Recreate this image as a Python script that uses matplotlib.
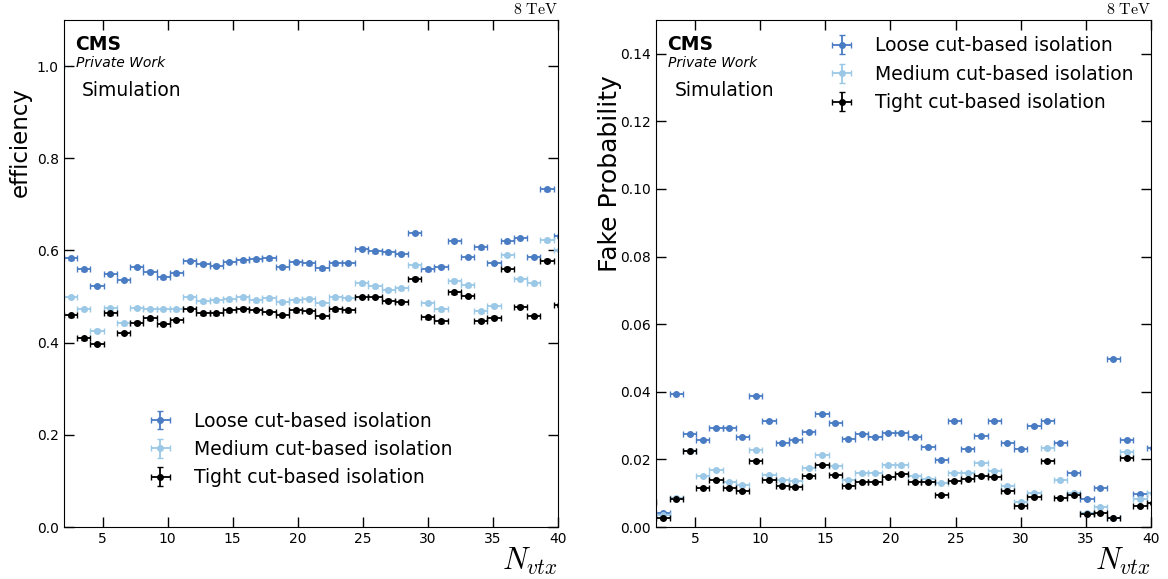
import numpy as np
import matplotlib.pyplot as plt

plt.rcParams['mathtext.fontset'] = 'cm'

# vertex-multiplicity binning (bins 1..39 are visible in the x range 2-40)
edges = np.linspace(0, 60, 60)
nvtx = 0.5 * (edges[1:] + edges[:-1])[1:40]
half_width = 0.5 * (edges[1] - edges[0])

labels = ['Loose cut-based isolation', 'Medium cut-based isolation', 'Tight cut-based isolation']
colors = ['#4a7cc3', '#9bc8e6', 'black']

nan = np.nan
eff_loose = [1.000, 0.583, 0.559, 0.523, 0.549, 0.536, 0.564, 0.554, 0.542, 0.550,
             0.577, 0.571, 0.567, 0.575, 0.579, 0.581, 0.583, 0.565, 0.575, 0.572,
             0.561, 0.572, 0.573, 0.604, 0.598, 0.596, 0.593, 0.638, 0.559, 0.565,
             0.621, 0.586, 0.607, 0.573, 0.620, 0.627, 0.586, 0.733, 0.631]
eff_medium = [nan, 0.499, 0.473, 0.426, 0.475, 0.442, 0.475, 0.473, 0.473, 0.472,
              0.499, 0.490, 0.492, 0.494, 0.498, 0.492, 0.496, 0.489, 0.492, 0.495,
              0.487, 0.498, 0.497, 0.529, 0.522, 0.515, 0.518, 0.568, 0.486, 0.472,
              0.534, 0.524, 0.468, 0.480, 0.590, 0.538, 0.529, 0.622, 0.600]
eff_tight = [nan, 0.459, 0.409, 0.397, 0.464, 0.421, 0.443, 0.453, 0.441, 0.449,
             0.474, 0.464, 0.464, 0.470, 0.474, 0.471, 0.467, 0.460, 0.470, 0.469,
             0.458, 0.472, 0.470, 0.499, 0.499, 0.491, 0.489, 0.539, 0.455, 0.446,
             0.509, 0.501, 0.448, 0.454, 0.560, 0.478, 0.458, 0.578, 0.481]

fake_loose = [nan, 0.0041, 0.0393, 0.0275, 0.0257, 0.0292, 0.0292, 0.0266, 0.0388, 0.0315,
              0.0249, 0.0257, 0.0281, 0.0334, 0.0307, 0.0260, 0.0275, 0.0266, 0.0277, 0.0279,
              0.0267, 0.0237, 0.0198, 0.0313, 0.0230, 0.0269, 0.0313, 0.0248, 0.0231, 0.0298,
              0.0314, 0.0248, 0.0160, 0.0084, 0.0115, 0.0498, 0.0258, 0.0097, 0.0233]
fake_medium = [nan, 0.0035, 0.0086, 0.0226, 0.0150, 0.0169, 0.0132, 0.0124, 0.0228, 0.0153,
               0.0140, 0.0135, 0.0175, 0.0214, 0.0180, 0.0140, 0.0159, 0.0159, 0.0182, 0.0182,
               0.0151, 0.0141, 0.0129, 0.0159, 0.0161, 0.0188, 0.0167, 0.0122, 0.0074, 0.0100,
               0.0234, 0.0139, 0.0100, 0.0041, 0.0060, 0.0026, 0.0223, 0.0082, 0.0100]
fake_tight = [0.0075, 0.0026, 0.0084, 0.0225, 0.0114, 0.0138, 0.0116, 0.0107, 0.0196, 0.0140,
              0.0121, 0.0119, 0.0150, 0.0184, 0.0153, 0.0121, 0.0134, 0.0133, 0.0148, 0.0158,
              0.0134, 0.0134, 0.0096, 0.0137, 0.0143, 0.0151, 0.0148, 0.0106, 0.0063, 0.0089,
              0.0195, 0.0085, 0.0094, 0.0038, 0.0042, 0.0026, 0.0204, 0.0061, 0.0072]

# small statistical uncertainties (hidden behind the markers)
eff_err = 0.003
fake_err = 0.0003

fig = plt.figure(figsize=(11.68, 5.79), dpi=100)
ax1 = fig.add_axes([0.0544, 0.0898, 0.4233, 0.8757])
ax2 = fig.add_axes([0.5616, 0.0898, 0.4238, 0.8757])


def draw(ax, series, err):
    for vals, lab, col in zip(series, labels, colors):
        vals = np.array(vals)
        ok = np.isfinite(vals)  # empty bins are not drawn
        ax.errorbar(nvtx[ok], vals[ok], xerr=half_width, yerr=err, fmt='o', color=col,
                    markersize=4, elinewidth=1.3, capsize=2.5, capthick=1.0, label=lab)
    ax.set_xlim(2, 40)
    ax.tick_params(direction='in', top=True, right=True, length=7, width=1, labelsize=10)
    ax.set_xlabel(r'$N_{vtx}$', fontsize=22, loc='right', labelpad=0)
    ax.text(1.0, 1.006, r'$\mathrm{8\ TeV}$', transform=ax.transAxes, ha='right', va='bottom',
            fontsize=11.5)
    ax.text(0.023, 0.9408, 'CMS', transform=ax.transAxes, fontsize=13.5, fontweight='bold')
    ax.text(0.025, 0.907, 'Private Work', transform=ax.transAxes, fontsize=10, style='italic')
    ax.text(0.037, 0.851, 'Simulation', transform=ax.transAxes, fontsize=13.5)


draw(ax1, [eff_loose, eff_medium, eff_tight], eff_err)
ax1.set_ylim(0, 1.1)
ax1.set_yticks([0.0, 0.2, 0.4, 0.6, 0.8, 1.0])
ax1.set_ylabel('efficiency', fontsize=16.5, loc='top')
ax1.yaxis.set_label_coords(-0.064, 0.868)
ax1.legend(loc='lower left', bbox_to_anchor=(0.124, 0.045), frameon=False, fontsize=13.5)

draw(ax2, [fake_loose, fake_medium, fake_tight], fake_err)
ax2.set_ylim(0, 0.15)
ax2.set_yticks([0.0, 0.02, 0.04, 0.06, 0.08, 0.10, 0.12, 0.14])
ax2.set_ylabel('Fake Probability', fontsize=18, loc='top')
ax2.yaxis.set_label_coords(-0.069, 0.8915)
ax2.legend(loc='upper left', bbox_to_anchor=(0.303, 1.001), frameon=False, fontsize=13.5)

fig.savefig('out.png', dpi=100)
